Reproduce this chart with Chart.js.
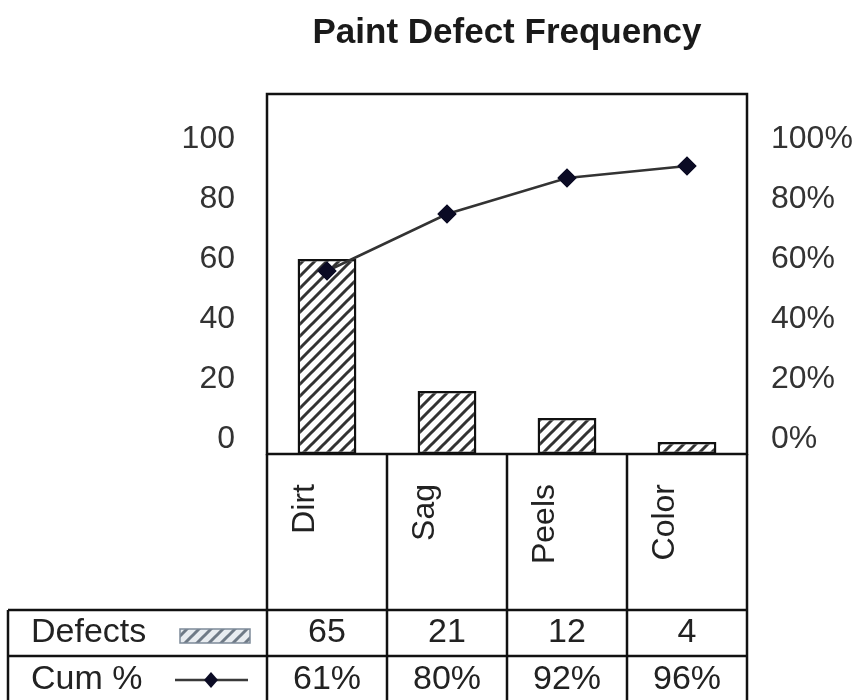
<!DOCTYPE html>
<html>
<head>
<meta charset="utf-8">
<script src="https://cdn.jsdelivr.net/npm/chart.js@4.4.1/dist/chart.umd.min.js"></script>
<style>
  html, body { margin: 0; padding: 0; background: #fff; }
  #wrap { width: 857px; height: 700px; }
</style>
</head>
<body>
<div id="wrap"><canvas id="paretoChart" width="857" height="700"></canvas></div>
<script>
const categories = ['Dirt', 'Sag', 'Peels', 'Color'];
const defects = [65, 21, 12, 4];
const cumPercent = [61, 80, 92, 96];
const countTicks = [0, 20, 40, 60, 80, 100];
const pctTicks = [0, 20, 40, 60, 80, 100];

const FONT = "'Liberation Sans', Arial, sans-serif";
Chart.defaults.font.family = FONT;

function makeHatch(stroke, bg, lineWidth, size) {
  const c = document.createElement('canvas');
  c.width = c.height = size;
  const g = c.getContext('2d');
  const h = size / 2;
  g.fillStyle = bg;
  g.fillRect(0, 0, size, size);
  g.strokeStyle = stroke;
  g.lineWidth = lineWidth;
  g.beginPath();
  g.moveTo(0, size); g.lineTo(size, 0);
  g.moveTo(-h, h); g.lineTo(h, -h);
  g.moveTo(h, size + h); g.lineTo(size + h, h);
  g.stroke();
  return g.createPattern(c, 'repeat');
}

const barHatch = makeHatch('#333', '#fff', 3, 12);
const legendHatch = makeHatch('#6f7a86', '#e8ecf0', 3, 12);

// frame around the plot, category cells and the data table underneath
const tablePlugin = {
  id: 'dataTable',
  afterDraw(chart) {
    const { ctx, chartArea: a, scales: { x } } = chart;
    const n = categories.length;
    const colW = (a.right - a.left) / n;
    const tableLeft = 8;
    const rowTop = a.bottom + 156;
    const rowMid = rowTop + 46;
    const bottom = chart.height;

    ctx.save();
    ctx.strokeStyle = '#111';
    ctx.lineWidth = 2.5;
    ctx.strokeRect(a.left, a.top, a.right - a.left, a.bottom - a.top);

    ctx.beginPath();
    for (let i = 0; i <= n; i++) {
      const bx = Math.round(a.left + i * colW);
      ctx.moveTo(bx, a.bottom);
      ctx.lineTo(bx, bottom);
    }
    ctx.moveTo(tableLeft, rowTop); ctx.lineTo(a.right, rowTop);
    ctx.moveTo(tableLeft, rowMid); ctx.lineTo(a.right, rowMid);
    ctx.moveTo(tableLeft, rowTop); ctx.lineTo(tableLeft, bottom);
    ctx.stroke();

    ctx.fillStyle = '#222';
    ctx.font = '34px ' + FONT;
    ctx.textBaseline = 'alphabetic';
    ctx.textAlign = 'left';
    ctx.fillText('Defects', 31, rowTop + 32);
    ctx.fillText('Cum %', 31, rowMid + 33);

    ctx.textAlign = 'center';
    categories.forEach((c, i) => {
      const cx = x.getPixelForValue(i);
      ctx.fillText(String(defects[i]), cx, rowTop + 32);
      ctx.fillText(cumPercent[i] + '%', cx, rowMid + 33);
    });

    // legend keys
    ctx.fillStyle = legendHatch;
    ctx.fillRect(180, rowTop + 19, 70, 14);
    ctx.strokeStyle = '#7d8a99';
    ctx.lineWidth = 1.5;
    ctx.strokeRect(180, rowTop + 19, 70, 14);

    const ly = rowMid + 24;
    ctx.strokeStyle = '#3a3a3a';
    ctx.lineWidth = 2.5;
    ctx.beginPath();
    ctx.moveTo(175, ly); ctx.lineTo(248, ly);
    ctx.stroke();
    ctx.fillStyle = '#0b0b24';
    ctx.beginPath();
    ctx.moveTo(211, ly - 8); ctx.lineTo(218, ly); ctx.lineTo(211, ly + 8); ctx.lineTo(204, ly);
    ctx.closePath();
    ctx.fill();
    ctx.restore();
  }
};

const tickFont = { size: 32 };

new Chart(document.getElementById('paretoChart'), {
  data: {
    labels: categories,
    datasets: [
      {
        type: 'line',
        label: 'Cum %',
        data: cumPercent,
        yAxisID: 'yPct',
        order: 0,
        borderColor: '#333',
        borderWidth: 2.5,
        pointStyle: 'rectRot',
        pointRadius: 8,
        pointBackgroundColor: '#0b0b24',
        pointBorderColor: '#0b0b24',
        tension: 0
      },
      {
        type: 'bar',
        label: 'Defects',
        data: defects,
        yAxisID: 'y',
        order: 1,
        backgroundColor: barHatch,
        borderColor: '#111',
        borderWidth: 2.5,
        borderSkipped: false,
        barPercentage: 0.49,
        categoryPercentage: 1
      }
    ]
  },
  options: {
    responsive: false,
    animation: false,
    layout: { padding: 0 },
    plugins: {
      legend: { display: false },
      tooltip: { enabled: false },
      title: {
        display: true,
        fullSize: false,
        text: 'Paint Defect Frequency',
        color: '#1a1a1a',
        font: { size: 35, weight: 'bold' },
        padding: { top: 12, bottom: 40 }
      }
    },
    scales: {
      x: {
        type: 'category',
        offset: true,
        grid: { display: false },
        border: { display: false },
        ticks: {
          autoSkip: false,
          minRotation: 90,
          maxRotation: 90,
          padding: 22,
          labelOffset: -22,
          color: '#222',
          font: tickFont
        },
        afterFit: s => { s.height = 246; }
      },
      y: {
        position: 'left',
        min: 0,
        max: 120,
        grid: { display: false },
        border: { display: false },
        afterBuildTicks: s => { s.ticks = countTicks.map(v => ({ value: v })); },
        ticks: { padding: 24, labelOffset: -15, color: '#333', font: tickFont },
        afterFit: s => { s.width = 267; }
      },
      yPct: {
        position: 'right',
        min: 0,
        max: 120,
        grid: { display: false },
        border: { display: false },
        afterBuildTicks: s => { s.ticks = pctTicks.map(v => ({ value: v })); },
        ticks: {
          padding: 16,
          labelOffset: -15,
          color: '#333',
          font: tickFont,
          callback: v => v + '%'
        },
        afterFit: s => { s.width = 110; }
      }
    }
  },
  plugins: [tablePlugin]
});
</script>
</body>
</html>
